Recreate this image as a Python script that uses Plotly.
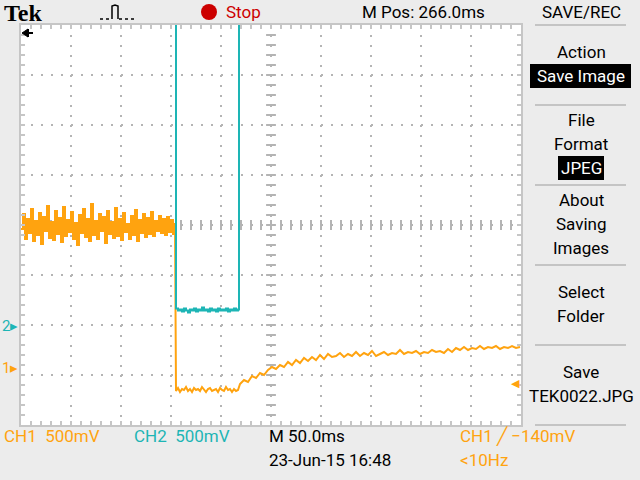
import plotly.graph_objects as go

W, H = 640, 480
GX0, GX1, GY0, GY1 = 21, 521, 25, 425          # graticule, pixels

TIME_DIV = 50.0      # ms/div
VOLT_DIV = 0.5       # V/div (both channels)
N_XDIV, N_YDIV = 10, 8
CH1_GND = 1.12       # divisions above bottom edge
CH2_GND = 1.97
TRIG_LEVEL = -0.14   # V on CH1

# CH1 [V] - noisy level before the drop, 2 ms steps from 0 ms
ch1_pre = [1.40, 1.55, 1.30, 1.50, 1.36, 1.60, 1.28, 1.48, 1.34, 1.56, 1.25, 1.52,
           1.38, 1.63, 1.31, 1.47, 1.29, 1.58, 1.35, 1.51, 1.27, 1.62, 1.33, 1.49,
           1.37, 1.57, 1.30, 1.46, 1.24, 1.54, 1.36, 1.60, 1.32, 1.50, 1.28, 1.65,
           1.34, 1.48, 1.30, 1.55, 1.38, 1.52, 1.26, 1.58, 1.35, 1.47, 1.31, 1.61,
           1.33, 1.50, 1.29, 1.56, 1.37, 1.45, 1.30, 1.53, 1.34, 1.59, 1.28, 1.49,
           1.36, 1.55, 1.32, 1.51, 1.35, 1.57, 1.33, 1.48, 1.38, 1.53, 1.36, 1.50,
           1.34, 1.52, 1.37, 1.49, 1.35, 1.46]
# CH1 [V] - low plateau, 2 ms steps from 155 ms
ch1_low = [-0.22, -0.19, -0.23, -0.20, -0.21, -0.18, -0.22, -0.20, -0.23, -0.19,
           -0.21, -0.20, -0.22, -0.18, -0.21, -0.23, -0.20, -0.19, -0.22, -0.21,
           -0.20, -0.23, -0.19, -0.21, -0.22, -0.18, -0.21, -0.20, -0.23, -0.20,
           -0.22, -0.21]
# CH1 [V] - recovery, 4 ms steps from 219 ms
ch1_rec = [-0.15, -0.11, -0.13, -0.07, -0.09, -0.04, -0.06, -0.01, 0.02, 0.00,
           0.04, 0.02, 0.07, 0.04, 0.09, 0.06, 0.11, 0.08, 0.12, 0.09, 0.14, 0.10,
           0.15, 0.12, 0.13, 0.16, 0.12, 0.15, 0.13, 0.17, 0.13, 0.16, 0.14, 0.18,
           0.13, 0.15, 0.17, 0.14, 0.16, 0.15, 0.19, 0.15, 0.17, 0.16, 0.18, 0.15,
           0.17, 0.16, 0.19, 0.17, 0.18, 0.16, 0.20, 0.17, 0.21, 0.19, 0.22, 0.19,
           0.21, 0.20, 0.23, 0.20, 0.22, 0.21, 0.23, 0.20, 0.22, 0.21, 0.23, 0.21,
           0.22]
# CH2 [V] - low plateau, 2 ms steps from 155 ms; outside it the trace is off screen
ch2_low = [0.18, 0.16, 0.17, 0.15, 0.18, 0.16, 0.14, 0.17, 0.16, 0.18, 0.15, 0.17,
           0.16, 0.19, 0.16, 0.17, 0.15, 0.18, 0.16, 0.17, 0.15, 0.18, 0.16, 0.17,
           0.16, 0.18, 0.15, 0.17, 0.16, 0.18, 0.16, 0.17]
CH2_HIGH = 3.6

ORANGE = "#ffa30f"
CYAN = "#1db5b5"
GRID = "#b4b4b4"
FRAME = "#c6c6c6"
BG = "#ececec"
FONT = "Roboto, Liberation Sans, sans-serif"

t_pre = [2 * i for i in range(len(ch1_pre))]
t_low = [155 + 2 * i for i in range(len(ch1_low))]
t_rec = [219 + 4 * i for i in range(len(ch1_rec))]
t2_low = [155 + 2 * i for i in range(len(ch2_low))]

# drop and recovery drawn as a plain line, noisy level before it as sample steps
ch1b_t = [t_pre[-1]] + t_low + t_rec
ch1b_v = [ch1_pre[-1]] + ch1_low + ch1_rec
ch2_t = [0, 154] + t2_low + [218, 500]
ch2_v = [CH2_HIGH, CH2_HIGH] + ch2_low + [CH2_HIGH, CH2_HIGH]

xr = [0, N_XDIV * TIME_DIV]
y1r = [(0 - CH1_GND) * VOLT_DIV, (N_YDIV - CH1_GND) * VOLT_DIV]
y2r = [(0 - CH2_GND) * VOLT_DIV, (N_YDIV - CH2_GND) * VOLT_DIV]


def px(x):
    return x / W


def py(y):
    return 1 - y / H


fig = go.Figure()

# centre cross ticks of the graticule
xc = xr[1] / 2
yc = (y1r[0] + y1r[1]) / 2
ys = [y1r[0] + 0.1 * k for k in range(1, N_YDIV * 5)]
xs = [10 * k for k in range(1, N_XDIV * 5)]
fig.add_trace(go.Scatter(x=[xc] * len(ys), y=ys, mode="markers", hoverinfo="skip",
                         marker=dict(symbol="line-ew", size=7, color=GRID,
                                     line=dict(color=GRID, width=2))))
fig.add_trace(go.Scatter(x=xs, y=[yc] * len(xs), mode="markers", hoverinfo="skip",
                         marker=dict(symbol="line-ns", size=7, color=GRID,
                                     line=dict(color=GRID, width=2))))

fig.add_trace(go.Scatter(x=ch2_t, y=ch2_v, yaxis="y2", mode="lines",
                         line=dict(color=CYAN, width=2, shape="hv"), hoverinfo="skip"))
fig.add_trace(go.Scatter(x=t_pre, y=ch1_pre, mode="lines",
                         line=dict(color=ORANGE, width=2, shape="hv"), hoverinfo="skip"))
fig.add_trace(go.Scatter(x=ch1b_t, y=ch1b_v, mode="lines",
                         line=dict(color=ORANGE, width=2), hoverinfo="skip"))

axis_common = dict(showgrid=True, gridcolor=GRID, griddash="2px,8px", gridwidth=1.5,
                   zeroline=False, showline=True, linecolor=FRAME, linewidth=2,
                   mirror="allticks", ticks="inside", ticklen=4, tickcolor=FRAME,
                   tickwidth=1.5, showticklabels=False, fixedrange=True)
fig.update_layout(
    width=W, height=H, margin=dict(l=0, r=0, t=0, b=0),
    paper_bgcolor=BG, plot_bgcolor="white", showlegend=False,
    xaxis=dict(range=xr, domain=[px(GX0), px(GX1)], tick0=0, dtick=TIME_DIV,
               minor=dict(dtick=10, ticks="inside", ticklen=4, tickcolor=FRAME,
                          showgrid=False), **axis_common),
    yaxis=dict(range=y1r, domain=[py(GY1), py(GY0)], tick0=y1r[0], dtick=VOLT_DIV,
               minor=dict(tick0=y1r[0], dtick=0.1, ticks="inside", ticklen=4,
                          tickcolor=FRAME, showgrid=False), **axis_common),
    yaxis2=dict(range=y2r, overlaying="y", visible=False, fixedrange=True),
)


def txt(x, y, s, color="black", size=17, anchor="center", family=FONT):
    fig.add_annotation(xref="paper", yref="paper", x=px(x), y=py(y), text=s,
                       showarrow=False, xanchor=anchor, yanchor="middle",
                       font=dict(family=family, size=size, color=color), borderpad=0)


def hline(x0, x1, y, color="#c4c4c4", width=2):
    fig.add_shape(type="line", xref="paper", yref="paper", x0=px(x0), x1=px(x1),
                  y0=py(y), y1=py(y), line=dict(color=color, width=width))


def box(x0, y0, x1, y1, color="black"):
    fig.add_shape(type="rect", xref="paper", yref="paper", x0=px(x0), x1=px(x1),
                  y0=py(y1), y1=py(y0), fillcolor=color, line=dict(width=0))


def path(pts, color="black", width=1.5, fill=None):
    d = "M" + " L".join(f"{px(a)},{py(b)}" for a, b in pts)
    if fill:
        d += " Z"
    fig.add_shape(type="path", xref="paper", yref="paper", path=d,
                  fillcolor=fill, line=dict(color=color, width=width))


# top bar
txt(3, 13, "<b>Tek</b>", size=24, anchor="left",
    family="Liberation Serif, DejaVu Serif, serif")
path([(112, 19), (112, 6), (115, 5), (118, 6), (118, 19)])
fig.add_shape(type="line", xref="paper", yref="paper", x0=px(100), x1=px(111),
              y0=py(19), y1=py(19), line=dict(color="black", width=1.5, dash="dot"))
fig.add_shape(type="line", xref="paper", yref="paper", x0=px(119), x1=px(136),
              y0=py(19), y1=py(19), line=dict(color="black", width=1.5, dash="dot"))
fig.add_shape(type="circle", xref="paper", yref="paper", x0=px(201), x1=px(217),
              y0=py(20), y1=py(4), fillcolor="#cc0000", line=dict(width=0))
txt(225, 12, "Stop", color="#cc0000", anchor="left")
txt(423, 12, "M Pos: 266.0ms")
txt(581, 12, "SAVE/REC")
hline(535, 626, 25)

# trigger-position arrow at the top-left of the graticule
path([(22, 33), (28, 29), (28, 37)], width=1, fill="black")
path([(27, 33), (33, 33)], width=2)
path([(28, 29), (28, 37)], width=2)

# right-hand menu
txt(581, 52, "Action")
box(530, 64, 631, 88)
txt(581, 76, "Save Image", color="white")
hline(535, 626, 105)
txt(581, 120, "File")
txt(581, 144, "Format")
box(558, 156, 604, 180)
txt(581, 168, "JPEG", color="white")
hline(535, 626, 185)
txt(581, 200, "About")
txt(581, 224, "Saving")
txt(581, 248, "Images")
hline(535, 626, 265)
txt(581, 292, "Select")
txt(581, 316, "Folder")
hline(535, 626, 345)
txt(581, 372, "Save")
txt(581, 396, "TEK0022.JPG")
hline(535, 626, 425)

# markers on the graticule edges
txt(1, 326, "2▸", color=CYAN, size=15, anchor="left")
txt(1, 368, "1▸", color=ORANGE, size=15, anchor="left")
txt(510, 383, "◀", color=ORANGE, size=11, anchor="left")

# bottom readouts
txt(3, 436, "CH1  500mV", color=ORANGE, anchor="left")
txt(133, 436, "CH2  500mV", color=CYAN, anchor="left")
txt(268, 436, "M 50.0ms", anchor="left")
txt(268, 460, "23-Jun-15 16:48", anchor="left")
txt(459, 436, "CH1 ╱ −140mV", color=ORANGE, anchor="left")
txt(459, 460, "<10Hz", color=ORANGE, anchor="left")

fig.write_html("out.html", config={"displayModeBar": False},
               post_script="document.body.style.margin = '0px';")
